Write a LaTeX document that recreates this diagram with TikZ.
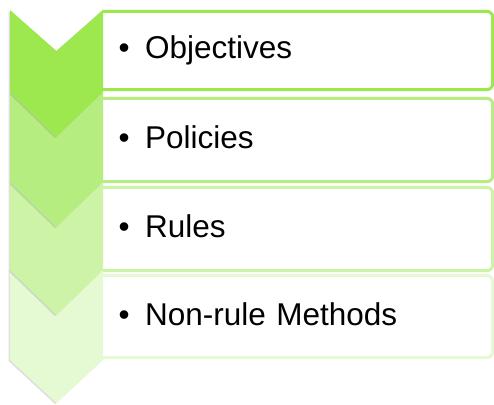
\documentclass[tikz,border=0pt]{standalone}
\usepackage{fontspec}
\setmainfont{Liberation Sans}
\usepackage{tikz}
\usetikzlibrary{shadows}
\definecolor{limegreen}{RGB}{156, 232, 78}
\definecolor{palelime}{RGB}{181, 237, 128}
\definecolor{softlime}{RGB}{205, 243, 166}
\definecolor{mistlime}{RGB}{229, 249, 211}

\begin{document}
\begin{tikzpicture}[x=1pt, y=-1pt,
    itembox/.style={fill=white, minimum width=389.5pt, inner xsep=15.5pt, text width=358.5pt,
        align=left, text height=23pt, text depth=6pt, font=\fontsize{31.5}{36}\selectfont},
    boxline/.style={line width=3pt, rounded corners=6pt},
    chevron/.style={drop shadow={shadow xshift=-1.5pt, shadow yshift=-1pt, opacity=0.25}}]
    \useasboundingbox (0,0) rectangle (494,404);

    % Item boxes, open on the left where the chevrons meet them
    \node[itembox, minimum height=78pt] (objectives) at (297.75, 50.5)
        {\textbullet\hspace{15.5pt}Objectives};
    \node[itembox, minimum height=83pt] (policies) at (297.75, 140)
        {\textbullet\hspace{15.5pt}Policies};
    \node[itembox, minimum height=83pt] (rules) at (297.75, 229)
        {\textbullet\hspace{15.5pt}Rules};
    \node[itembox, minimum height=82pt] (nonrule) at (297.75, 316.5)
        {\textbullet\hspace{15.5pt}Non-rule Methods};
    \draw[boxline, limegreen] (objectives.north west) -- (objectives.north east)
        -- (objectives.south east) -- (objectives.south west);
    \draw[boxline, palelime] (policies.north west) -- (policies.north east)
        -- (policies.south east) -- (policies.south west);
    \draw[boxline, softlime] (rules.north west) -- (rules.north east)
        -- (rules.south east) -- (rules.south west);
    \draw[boxline, mistlime] (nonrule.north west) -- (nonrule.north east)
        -- (nonrule.south east) -- (nonrule.south west);

    % Chevrons, lowest first so each one sits on top of the next
    \fill[mistlime, chevron] (10,270) -- (56.5,315) -- (103,270) -- (103,360) -- (56.5,403) -- (10,360) -- cycle;
    \fill[softlime, chevron] (10,182) -- (56.5,227) -- (103,182) -- (103,270) -- (56.5,315) -- (10,270) -- cycle;
    \fill[palelime, chevron] (10,92) -- (56.5,137) -- (103,92) -- (103,182) -- (56.5,227) -- (10,182) -- cycle;
    \fill[limegreen, chevron] (10,10) -- (56.5,51) -- (103,10) -- (103,92) -- (56.5,137) -- (10,92) -- cycle;
\end{tikzpicture}
\end{document}
